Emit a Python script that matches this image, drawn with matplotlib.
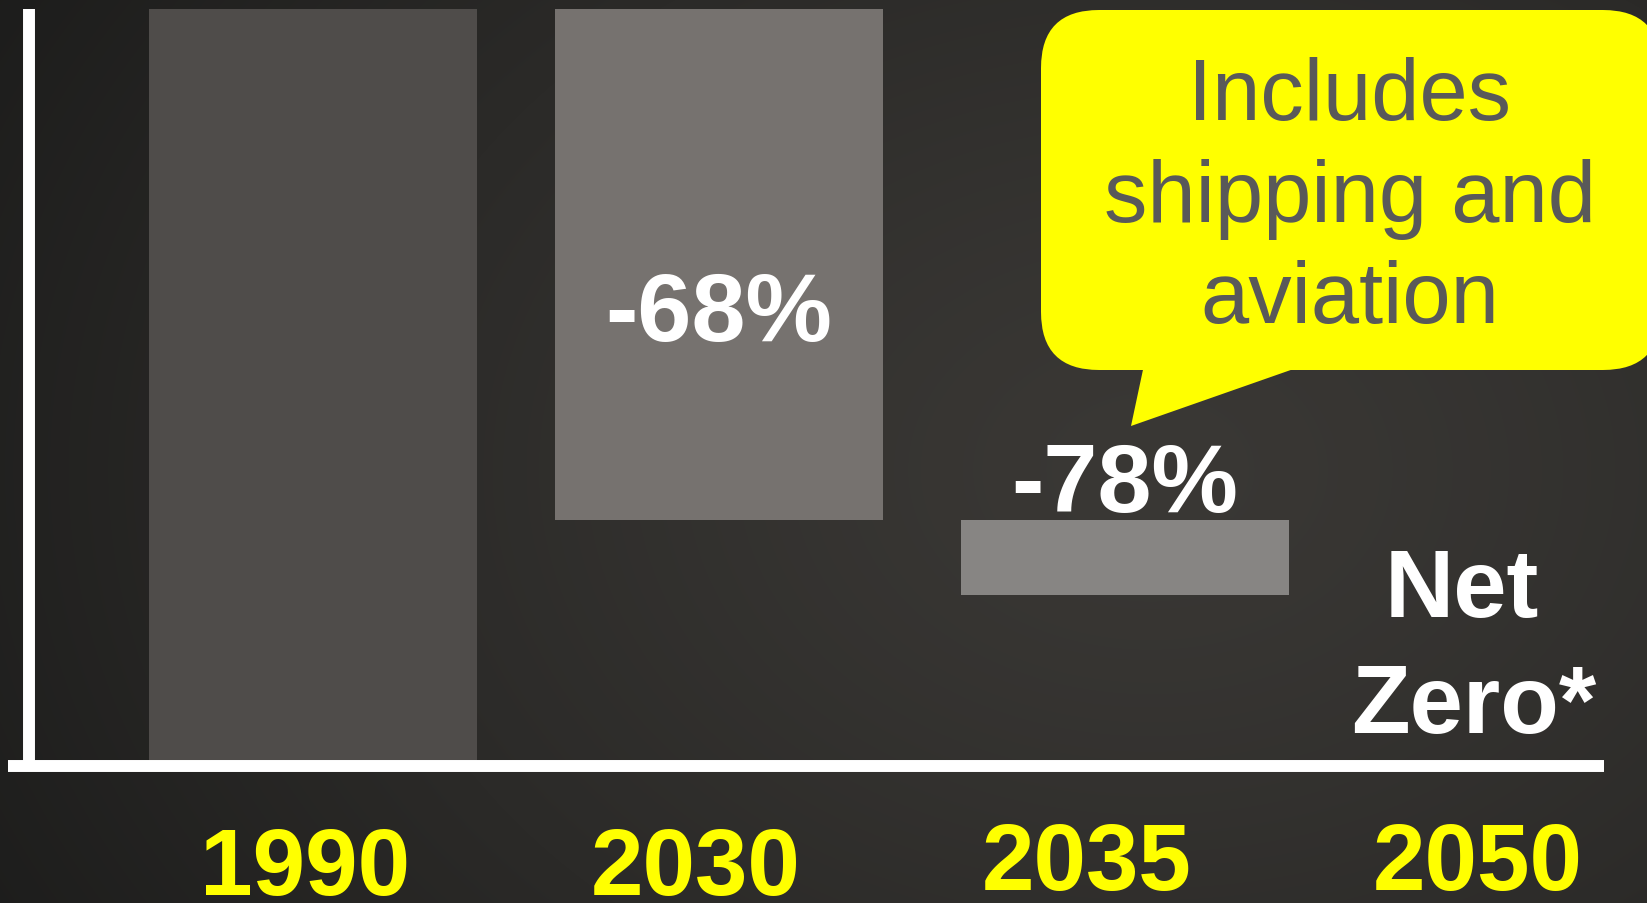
import numpy as np
import matplotlib
matplotlib.use("Agg")
import matplotlib.pyplot as plt
from matplotlib.patches import FancyBboxPatch, Polygon
from matplotlib.transforms import Affine2D

# data: emissions relative to 1990 (%), drawn as a waterfall
years = ["1990", "2030", "2035", "2050"]
bar_top = [100, 100, 32]
bar_bottom = [0, 32, 22]
bar_labels = ["", "-68%", "-78%"]
bar_colors = ["#4f4c4a", "#76726f", "#878583"]
end_label = ["Net", "Zero*"]
bubble_lines = ["Includes", "shipping and", "aviation"]

W, H = 1647, 903
fig = plt.figure(figsize=(W / 100, 9.035), dpi=100)

# background: soft radial gradient
bg = fig.add_axes([0, 0, 1, 1])
bg.set_axis_off()
yy, xx = np.mgrid[0:H, 0:W]
d = np.sqrt(((xx - 1150) / 1350) ** 2 + ((yy - 470) / 1000) ** 2)
f = 1 - np.clip(d, 0, 1) ** 1.3
dark = np.array([0x1c, 0x1c, 0x1b]) / 255
light = np.array([0x3a, 0x38, 0x35]) / 255
img = dark + (light - dark) * f[..., None]
bg.imshow(img, aspect="auto", extent=[0, W, H, 0])
bg.set_xlim(0, W)
bg.set_ylim(H, 0)

ax = fig.add_axes([0, 0, 1, 1])
ax.patch.set_alpha(0)
ax.set_xlim(-0.771, 3.286)
ax.set_ylim(-19.07, 101.33)
for s in ax.spines.values():
    s.set_visible(False)
ax.set_xticks([])
ax.set_yticks([])

x = np.arange(len(bar_top))
heights = np.array(bar_top) - np.array(bar_bottom)
ax.bar(x, heights, bottom=bar_bottom, width=0.808, color=bar_colors, zorder=2)

# -68% sits inside its bar, -78% just above its bar
for i, lab in enumerate(bar_labels):
    if not lab:
        continue
    ypos = 55.9 if i == 1 else bar_top[i] + 1.1
    ax.text(x[i], ypos, lab, ha="center", va="baseline", color="white",
            fontsize=70, fontweight="bold", family="Liberation Sans", zorder=4)

# axes lines
ax.plot([-0.751, 3.179], [-0.8, -0.8], color="white", lw=8.6,
        solid_capstyle="butt", zorder=3)
ax.plot([-0.70, -0.70], [-0.8, 100], color="white", lw=8.6,
        solid_capstyle="butt", zorder=3)

# year labels
tick_pos = np.arange(len(years)) * 0.963 - 0.02
base_px = [895, 895, 890, 890]
for i, y in enumerate(years):
    ax.text(tick_pos[i], (760 - base_px[i]) / 7.5, y, ha="center", va="baseline",
            color="#ffff00", fontsize=68, fontweight="bold",
            family="Liberation Sans", zorder=4)

# net zero label
ax.text(tick_pos[3] - 0.04, 19.1, end_label[0], ha="center", va="baseline",
        color="white", fontsize=69, fontweight="bold", family="Liberation Sans")
ax.text(tick_pos[3] - 0.01, 3.7, end_label[1], ha="center", va="baseline",
        color="white", fontsize=69, fontweight="bold", family="Liberation Sans")

# speech bubble, drawn in image pixel coordinates
px = Affine2D().scale(1, -1).translate(0, H)
box = FancyBboxPatch((1041 + 58, 10 + 58), 620 - 116, 360 - 116,
                     boxstyle="round,pad=58", facecolor="#ffff00",
                     edgecolor="none", transform=px, zorder=5)
fig.add_artist(box)
tail = Polygon([(1144, 365), (1131, 426), (1305, 365)], closed=True,
               facecolor="#ffff00", edgecolor="none", transform=px, zorder=5)
fig.add_artist(tail)
for line, base in zip(bubble_lines, [120, 222, 323]):
    fig.text(1350 / W, 1 - base / H, line, ha="center", va="baseline",
             color="#595959", fontsize=62.5, family="Liberation Sans", zorder=6)

fig.savefig("out.png", dpi=100)
